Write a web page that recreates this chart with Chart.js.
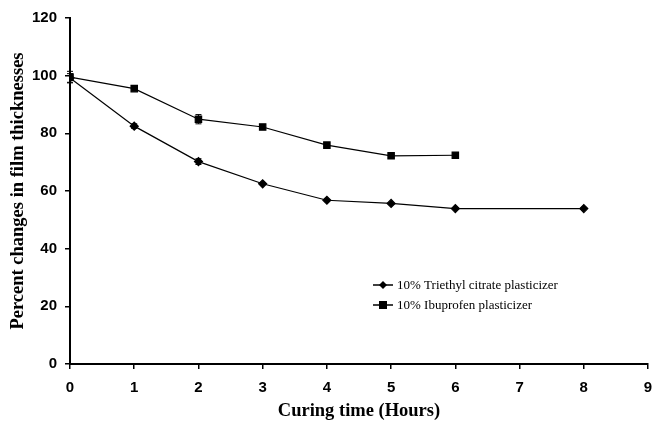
<!DOCTYPE html>
<html lang="en">
<head>
    <meta charset="UTF-8">
    <title>Film thickness vs curing time</title>
    <script src="https://cdn.jsdelivr.net/npm/chart.js"></script>
    <style>
        body { margin: 0; background: #fff; }
    </style>
</head>
<body>
    <canvas id="thicknessChart" width="654" height="428"></canvas>
    <script>
        // data
        const hoursTec = [0, 1, 2, 3, 4, 5, 6, 8];
        const tecValues = [99.2, 82.5, 70.2, 62.5, 56.8, 55.7, 53.9, 53.9];
        const tecErrors = [1.5, 0.8, 1.0, 0, 0, 0, 0, 0];

        const hoursIbu = [0, 1, 2, 3, 4, 5, 6];
        const ibuValues = [99.5, 95.5, 84.9, 82.2, 75.9, 72.2, 72.4];
        const ibuErrors = [2.0, 0, 1.6, 0, 0, 0.6, 0.6];

        const xTicks = [0, 1, 2, 3, 4, 5, 6, 7, 8, 9];
        const yTicks = [0, 20, 40, 60, 80, 100, 120];

        const seriesNames = ['10% Triethyl citrate plasticizer', '10% Ibuprofen plasticizer'];

        const toPoints = (xs, ys) => xs.map((x, i) => ({ x: x, y: ys[i] }));

        // small vertical error bars with caps
        const errorBars = {
            id: 'errorBars',
            afterDatasetsDraw(chart) {
                const ctx = chart.ctx;
                const errs = [tecErrors, ibuErrors];
                ctx.save();
                ctx.strokeStyle = '#000';
                ctx.lineWidth = 1;
                chart.data.datasets.forEach((ds, di) => {
                    ds.data.forEach((p, i) => {
                        const e = errs[di][i];
                        if (!e) return;
                        const px = chart.scales.x.getPixelForValue(p.x);
                        const top = chart.scales.y.getPixelForValue(p.y + e);
                        const bot = chart.scales.y.getPixelForValue(p.y - e);
                        ctx.beginPath();
                        ctx.moveTo(px, top); ctx.lineTo(px, bot);
                        ctx.moveTo(px - 3, top); ctx.lineTo(px + 3, top);
                        ctx.moveTo(px - 3, bot); ctx.lineTo(px + 3, bot);
                        ctx.stroke();
                    });
                });
                ctx.restore();
            }
        };

        // legend drawn inside the plot, lower right
        const innerLegend = {
            id: 'innerLegend',
            afterDraw(chart) {
                const ctx = chart.ctx;
                const area = chart.chartArea;
                const x0 = area.left + 303;
                const rows = [area.top + 267, area.top + 287];
                ctx.save();
                ctx.font = '13px "Liberation Serif", "Times New Roman", serif';
                ctx.textBaseline = 'middle';
                ctx.fillStyle = '#000';
                ctx.strokeStyle = '#000';
                ctx.lineWidth = 1.5;
                rows.forEach((y, i) => {
                    ctx.beginPath();
                    ctx.moveTo(x0, y); ctx.lineTo(x0 + 20, y);
                    ctx.stroke();
                    const cx = x0 + 10;
                    ctx.beginPath();
                    if (i === 0) {
                        ctx.moveTo(cx, y - 4); ctx.lineTo(cx + 4, y);
                        ctx.lineTo(cx, y + 4); ctx.lineTo(cx - 4, y);
                        ctx.closePath();
                    } else {
                        ctx.rect(cx - 4, y - 4, 8, 8);
                    }
                    ctx.fill();
                    ctx.fillText(seriesNames[i], x0 + 24, y + 1);
                });
                ctx.restore();
            }
        };

        const tickFont = { family: '"Liberation Sans", Arial, sans-serif', size: 15, weight: 'bold' };
        const titleFont = { family: '"Liberation Serif", "Times New Roman", serif', size: 18.5, weight: 'bold' };

        new Chart(document.getElementById('thicknessChart'), {
            type: 'line',
            data: {
                datasets: [{
                    label: seriesNames[0],
                    data: toPoints(hoursTec, tecValues),
                    borderColor: '#000',
                    backgroundColor: '#000',
                    borderWidth: 1.2,
                    pointStyle: 'rectRot',
                    pointRadius: 4,
                    tension: 0
                }, {
                    label: seriesNames[1],
                    data: toPoints(hoursIbu, ibuValues),
                    borderColor: '#000',
                    backgroundColor: '#000',
                    borderWidth: 1.2,
                    pointStyle: 'rect',
                    pointRadius: 4.5,
                    tension: 0
                }]
            },
            options: {
                responsive: false,
                animation: false,
                layout: { padding: { top: 18, right: 6, left: 0, bottom: 0 } },
                plugins: {
                    legend: { display: false },
                    tooltip: { enabled: false }
                },
                scales: {
                    x: {
                        type: 'linear',
                        min: 0,
                        max: 9,
                        afterBuildTicks: axis => { axis.ticks = xTicks.map(v => ({ value: v })); },
                        afterFit: axis => {
                            axis.height = 64;
                            axis.paddingLeft = 0;
                            axis.paddingRight = 0;
                        },
                        grid: { drawOnChartArea: false, tickLength: 5, color: '#000', lineWidth: 1.5 },
                        border: { color: '#000', width: 2 },
                        ticks: { color: '#000', font: tickFont, padding: 10, maxRotation: 0 },
                        title: { display: true, text: 'Curing time (Hours)', color: '#000', font: titleFont, padding: { top: 4, bottom: 6 } }
                    },
                    y: {
                        min: 0,
                        max: 120,
                        afterBuildTicks: axis => { axis.ticks = yTicks.map(v => ({ value: v })); },
                        afterFit: axis => {
                            axis.width = 70;
                            axis.paddingTop = 0;
                            axis.paddingBottom = 0;
                        },
                        grid: { drawOnChartArea: false, tickLength: 5, color: '#000', lineWidth: 1.5 },
                        border: { color: '#000', width: 2 },
                        ticks: { color: '#000', font: tickFont, padding: 8 },
                        title: { display: true, text: 'Percent changes in film thicknesses', color: '#000', font: titleFont, padding: { top: 7, bottom: 4 } }
                    }
                }
            },
            plugins: [errorBars, innerLegend]
        });
    </script>
</body>
</html>
